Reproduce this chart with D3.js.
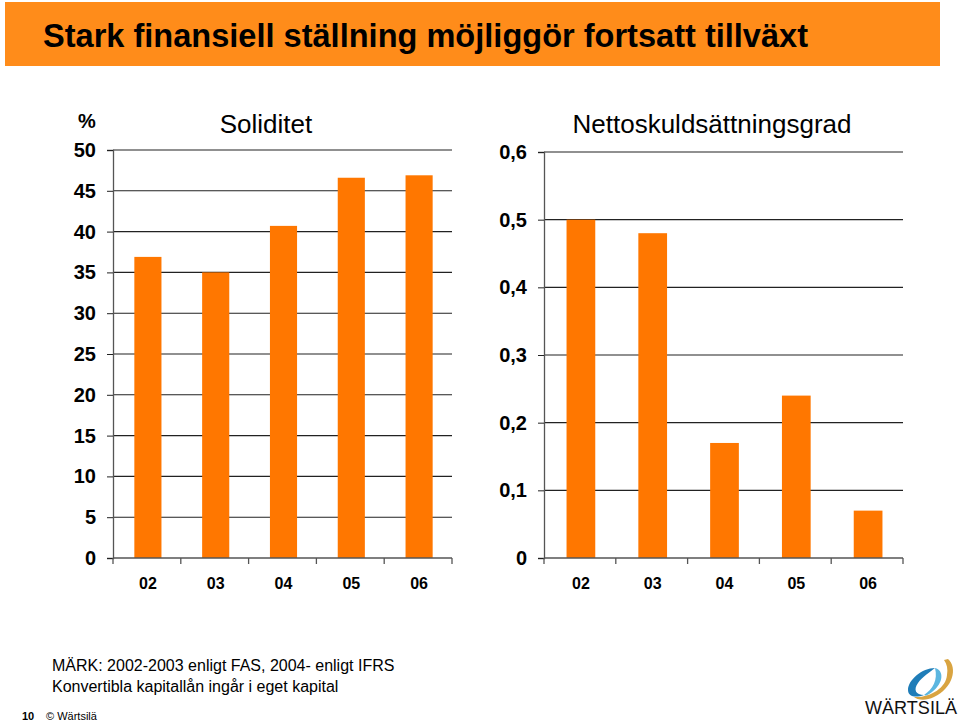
<!DOCTYPE html>
<html><head><meta charset="utf-8">
<script src="https://cdn.jsdelivr.net/npm/d3@7"></script>
<style>body{margin:0;background:#fff}svg{display:block}text{font-family:"Liberation Sans",Arial,sans-serif}</style>
</head><body>
<script>
const years = ["02","03","04","05","06"];
const soliditet = [36.9, 35.0, 40.7, 46.6, 46.9];
const netto = [0.50, 0.48, 0.17, 0.24, 0.07];
const leftTicks = [0,5,10,15,20,25,30,35,40,45,50];
const rightTicks = [0,0.1,0.2,0.3,0.4,0.5,0.6];
const title = "Stark finansiell ställning möjliggör fortsatt tillväxt";
const notes = ["MÄRK: 2002-2003 enligt FAS, 2004- enligt IFRS","Konvertibla kapitallån ingår i eget kapital"];

const W=960,H=723;
const svg=d3.select("body").append("svg").attr("width",W).attr("height",H);
const BAR="#FF7700";

// title bar
svg.append("rect").attr("x",5).attr("y",2).attr("width",935).attr("height",64).attr("fill","#FF8C1A");
svg.append("text").attr("x",43).attr("y",47).attr("font-family","'Liberation Sans Narrow','Liberation Sans',Arial,sans-serif")
  .attr("font-weight","bold").attr("font-size",34).attr("textLength",765).attr("lengthAdjust","spacingAndGlyphs").text(title);

function chart(cfg){
  const x=d3.scaleBand().domain(years).range([cfg.x0,cfg.x1]).padding(0);
  const y=d3.scaleLinear().domain([0,cfg.max]).range([558,cfg.top]);
  const g=svg.append("g");
  g.selectAll(".grid").data(cfg.ticks.filter(d=>d>0)).join("line")
    .attr("x1",cfg.x0).attr("x2",cfg.x1).attr("y1",d=>y(d)).attr("y2",d=>y(d))
    .attr("stroke","#222").attr("stroke-width",1.1);
  g.selectAll(".bar").data(cfg.values).join("rect")
    .attr("x",(d,i)=>x(years[i])+x.bandwidth()*0.3+1).attr("width",x.bandwidth()*0.4)
    .attr("y",d=>y(d)).attr("height",d=>y(0)-y(d)).attr("fill",BAR);
  const ya=d3.axisLeft(y).tickValues(cfg.ticks).tickSize(6).tickPadding(11).tickFormat(cfg.fmt);
  const ag=g.append("g").attr("transform",`translate(${cfg.x0},0)`).call(ya);
  ag.select(".domain").attr("stroke","#555").attr("stroke-width",1.3);
  ag.selectAll(".tick line").attr("stroke","#222");
  ag.selectAll("text").attr("font-size",20).attr("font-weight","bold").attr("fill","#000")
    .attr("font-family","'Liberation Sans',Arial,sans-serif");
  g.append("line").attr("x1",cfg.x0).attr("x2",cfg.x1).attr("y1",y(0)).attr("y2",y(0)).attr("stroke","#555").attr("stroke-width",1.3);
  const bounds=years.map(d=>x(d)).concat([cfg.x1]);
  g.selectAll(".bt").data(bounds).join("line").attr("x1",d=>d).attr("x2",d=>d)
    .attr("y1",y(0)).attr("y2",y(0)+6).attr("stroke","#555").attr("stroke-width",1.3);
  g.selectAll(".xl").data(years).join("text").attr("x",d=>x(d)+x.bandwidth()/2+1).attr("y",589)
    .attr("text-anchor","middle").attr("font-size",16).attr("font-weight","bold").text(d=>d);
  g.append("text").attr("x",cfg.titleX).attr("y",133).attr("text-anchor","middle").attr("font-size",cfg.titleSize).text(cfg.title);
}
chart({x0:113,x1:452,top:150,max:50,values:soliditet,ticks:leftTicks,fmt:d=>String(d),title:"Soliditet",titleX:266,titleSize:26});
chart({x0:544,x1:903,top:152,max:0.6,values:netto,ticks:rightTicks,fmt:d=>d===0?"0":d3.format(".1f")(d).replace(".",","),title:"Nettoskuldsättningsgrad",titleX:712,titleSize:26});

svg.append("text").attr("x",87).attr("y",128).attr("text-anchor","middle").attr("font-size",20).attr("font-weight","bold").text("%");

svg.selectAll(".note").data(notes).join("text").attr("x",52).attr("y",(d,i)=>671+i*21).attr("font-size",16).text(d=>d);
svg.append("text").attr("x",22).attr("y",720).attr("font-size",11).attr("font-weight","bold").text("10");
svg.append("text").attr("x",46).attr("y",720).attr("font-size",11).text("© Wärtsilä");

// logo
const lg=svg.append("g");
lg.append("path").attr("d","M948,659 C958,668 953,688 934,697 C926,701 917,700 914,697 C930,698 946,688 947,675 C948,669 947,664 944,660 Z").attr("fill","#D9A441");
lg.append("path").attr("d","M935,668 C922,668 908,680 908,690 C908,697 916,698 924,695 C916,695 913,690 918,683 C922,677 930,672 935,668 Z").attr("fill","#1F7DB8");
lg.append("path").attr("d","M935,668 C944,670 944,683 932,692 C928,695 926,696 924,695 C933,689 938,680 935,668 Z").attr("fill","#5BB6E0");
lg.append("text").attr("x",865).attr("y",714).attr("font-size",18).attr("textLength",92).attr("lengthAdjust","spacingAndGlyphs").attr("fill","#111").text("WÄRTSILÄ");
</script>
</body></html>
